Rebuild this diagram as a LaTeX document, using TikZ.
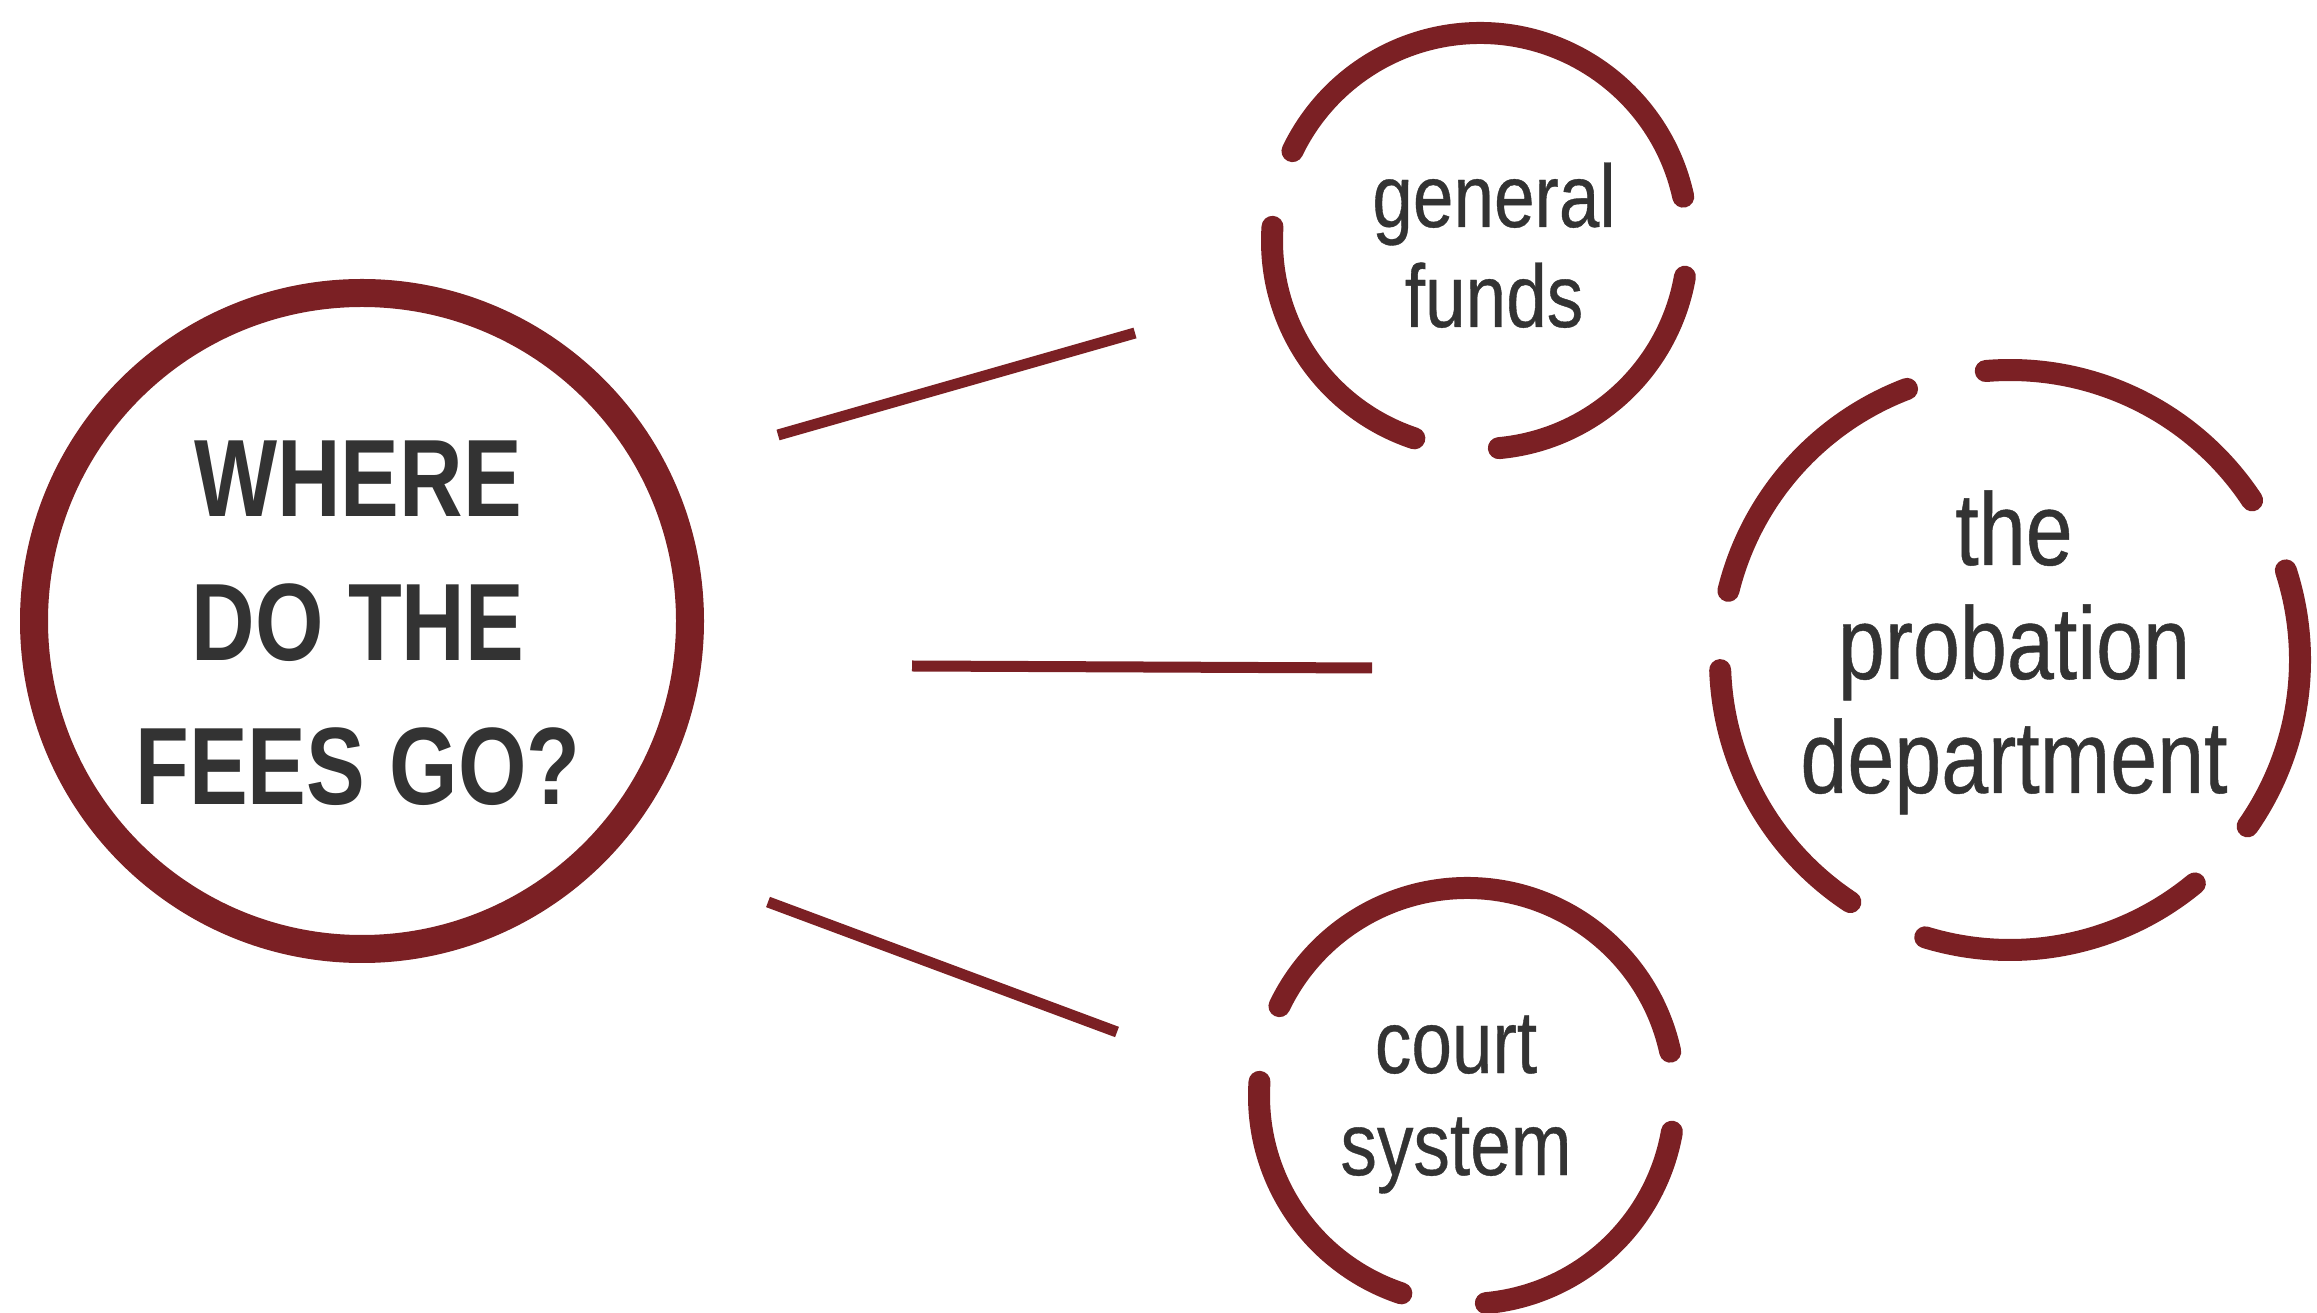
\documentclass[tikz,border=0pt]{standalone}
\usepackage{fontspec}
\setmainfont{Liberation Sans}
\newfontfamily\lblfont[FakeStretch=0.82,FakeBold=0.4]{Liberation Sans}
\newfontfamily\ttlfont[FakeStretch=0.8]{Liberation Sans}
\definecolor{maroon}{RGB}{123,32,36}
\definecolor{ink}{RGB}{51,51,51}
\begin{document}
\begin{tikzpicture}[x=1pt,y=1pt,
  ring/.style={circle, draw=maroon, line width=28pt, inner sep=0pt},
  hub/.style={circle, draw=none, inner sep=0pt},
  dashring/.style={draw=maroon, line width=22pt, line cap=round},
  conn/.style={draw=maroon, line width=11pt},
  lbl/.style={text=ink, align=center, inner sep=0pt, anchor=base}]
\fill[white] (0,0) rectangle (2317,1312);
\useasboundingbox (0,0) rectangle (2317,1312);

% main circle
\node[ring, minimum size=656pt] (where) at (362,691) {};
\node[lbl, font=\ttlfont\bfseries\fontsize{110}{144}\selectfont] (wheretxt) at (358,507) {WHERE\\DO THE\\FEES GO?};

% target circles
\node[hub, minimum size=416pt] (gen) at (1480,1071) {};
\node[hub, minimum size=416pt] (court) at (1467,216) {};
\node[hub, minimum size=580pt] (prob) at (2010,652) {};

\foreach \a/\b in {12.3/154.4, -84.8/-9.9, 176.1/251.6} {
  \draw[dashring] ([shift={(\a:208)}]gen.center) arc[start angle=\a, end angle=\b, radius=208];
  \draw[dashring] ([shift={(\a:208)}]court.center) arc[start angle=\a, end angle=\b, radius=208];
}
\foreach \a/\b in {110.8/166.2, 182/236.6, 253/309.6, 325/378, 33.4/94.8} {
  \draw[dashring] ([shift={(\a:290)}]prob.center) arc[start angle=\a, end angle=\b, radius=290];
}

\node[lbl, font=\lblfont\fontsize{89}{100}\selectfont] (gentxt) at (1494,985) {general\\funds};
\node[lbl, font=\lblfont\fontsize{103}{114}\selectfont] (probtxt) at (2014,519) {the\\probation\\department};
\node[lbl, font=\lblfont\fontsize{89}{102}\selectfont] (courttxt) at (1456,137) {court\\system};

% connectors
\coordinate (c1a) at (778,877);  \coordinate (c1b) at (1135,979);
\coordinate (c2a) at (912,646);  \coordinate (c2b) at (1372,644);
\coordinate (c3a) at (768,410);  \coordinate (c3b) at (1117,280);
\draw[conn] (c1a) -- (c1b);
\draw[conn] (c2a) -- (c2b);
\draw[conn] (c3a) -- (c3b);
\end{tikzpicture}
\end{document}
